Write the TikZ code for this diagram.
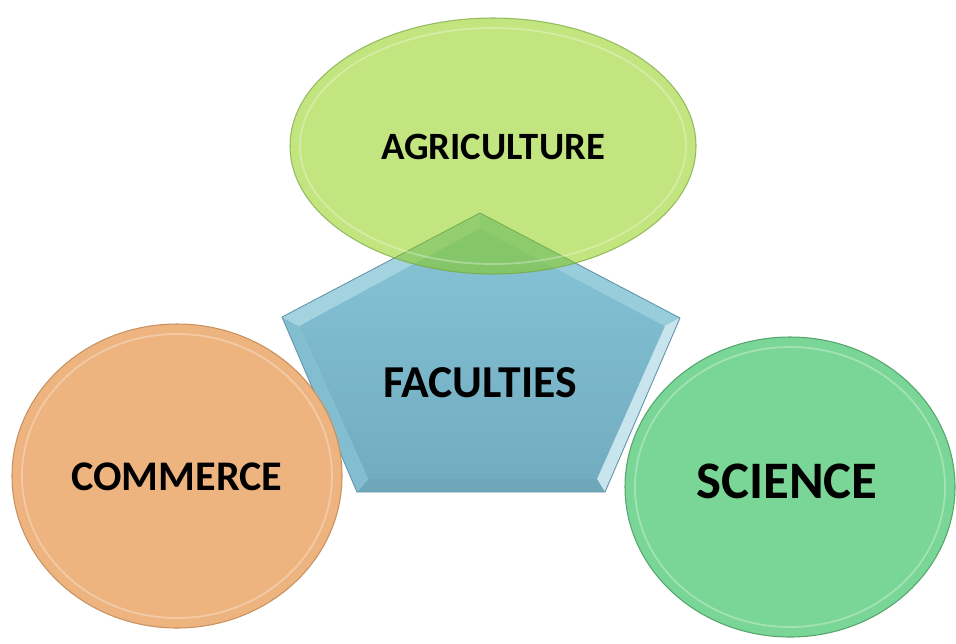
\documentclass[tikz,border=0pt]{standalone}
\usepackage{fontspec}
\setmainfont{Carlito}
\usetikzlibrary{positioning}

\definecolor{agrifill}{RGB}{133,203,0}
\definecolor{agriline}{RGB}{120,165,60}
\definecolor{commfill}{RGB}{238,180,128}
\definecolor{commline}{RGB}{200,145,96}
\definecolor{scifill}{RGB}{122,214,150}
\definecolor{sciline}{RGB}{84,166,110}
\definecolor{pentop}{RGB}{134,196,214}
\definecolor{penbot}{RGB}{114,172,192}
\definecolor{penline}{RGB}{98,148,168}

\begin{document}
\begin{tikzpicture}[x=0.02cm, y=-0.02cm,
	facname/.style={font=\bfseries\fontsize{#1}{#1}\selectfont, text=black, inner sep=0pt},
	rimline/.style={draw=white, draw opacity=0.3, line width=1pt}]
	
	\useasboundingbox (0,0) rectangle (956,643);
	
	% pentagon, outer and inner corners
	\coordinate (pt) at (480,213);
	\coordinate (pul) at (282,317);
	\coordinate (pur) at (680,318);
	\coordinate (pll) at (357,492);
	\coordinate (plr) at (605,492);
	\coordinate (it) at (480,228);
	\coordinate (iul) at (299,326);
	\coordinate (iur) at (665,326);
	\coordinate (ill) at (368,479);
	\coordinate (ilr) at (597,479);
	
	\fill[pentop!85!white] (pt) -- (pur) -- (iur) -- (it) -- cycle;
	\fill[pentop!45!white] (pur) -- (plr) -- (ilr) -- (iur) -- cycle;
	\fill[penbot!97!black] (plr) -- (pll) -- (ill) -- (ilr) -- cycle;
	\fill[pentop!97!black] (pll) -- (pul) -- (iul) -- (ill) -- cycle;
	\fill[pentop!75!white] (pul) -- (pt) -- (it) -- (iul) -- cycle;
	\shade[top color=pentop, bottom color=penbot] (it) -- (iur) -- (ilr) -- (ill) -- (iul) -- cycle;
	\draw[penline, line width=0.5pt] (pt) -- (pur) -- (plr) -- (pll) -- (pul) -- cycle;
	
	% commerce
	\fill[commfill, draw=commline, line width=0.6pt] (177,476) ellipse [x radius=165, y radius=152];
	\draw[rimline] (177,476) ellipse [x radius=155, y radius=142];
	
	% science
	\fill[scifill, draw=sciline, line width=0.6pt] (790,487) ellipse [x radius=165, y radius=150];
	\draw[rimline] (790,487) ellipse [x radius=155, y radius=140];
	
	% agriculture, see-through over the pentagon
	\fill[agrifill, fill opacity=0.5, draw=agriline, draw opacity=0.7, line width=0.6pt] (493,146) ellipse [x radius=203, y radius=128];
	\draw[rimline] (493,146) ellipse [x radius=193, y radius=118];
	
	\node[facname=22] (agri) at (493,147) {AGRICULTURE};
	\node[facname=24] (comm) at (177,477) {COMMERCE};
	\node[facname=30] (sci) at (787,481) {SCIENCE};
	\node[facname=26] (fac) at (480,383) {FACULTIES};
	
\end{tikzpicture}
\end{document}
